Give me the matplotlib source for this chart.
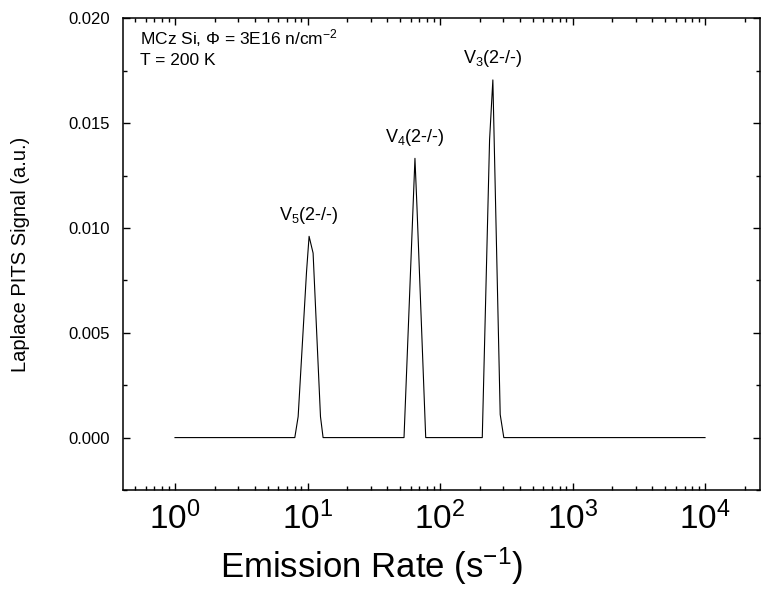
import matplotlib
matplotlib.use('Agg')
import matplotlib.pyplot as plt
from matplotlib.ticker import MultipleLocator, FormatStrFormatter, LogLocator

plt.rcParams['font.family'] = ['Liberation Sans', 'DejaVu Sans']
plt.rcParams['mathtext.fontset'] = 'custom'
plt.rcParams['mathtext.rm'] = 'Liberation Sans'
plt.rcParams['mathtext.it'] = 'Liberation Sans:italic'

# Laplace spectrum: emission rate (s^-1) and signal (a.u.)
rate = [1.0, 8.02, 8.50, 9.83, 10.28, 11.02, 12.53, 13.11,
        53.5, 64.7, 67.0, 78.0,
        208.4, 236.6, 250.5, 284.6, 303.0, 10000.0]
signal = [0.0, 0.0, 0.0010, 0.0079, 0.0096, 0.0088, 0.0010, 0.0,
          0.0, 0.01332, 0.0110, 0.0,
          0.0, 0.0142, 0.01706, 0.0011, 0.0, 0.0]

# peak labels
peak_labels = ['V$_5$(2-/-)', 'V$_4$(2-/-)', 'V$_3$(2-/-)']
peak_rates = [10.28, 64.7, 250.5]
peak_heights = [0.0096, 0.01332, 0.01706]

fig = plt.figure(figsize=(7.63, 5.90), dpi=100)
ax = fig.add_axes([0.1608, 0.1695, 0.835, 0.7995])

ax.plot(rate, signal, color='black', lw=0.8)
ax.set_xscale('log')
ax.set_xlim(0.403, 25900)
ax.set_ylim(-0.0025, 0.020)

for lab, r, h in zip(peak_labels, peak_rates, peak_heights):
    ax.text(r, h + 0.0005, lab, ha='center', va='bottom', fontsize=13)

ax.text(0.027, 0.958, 'MCz Si, Φ = 3E16 n/cm$^{-2}$', transform=ax.transAxes,
        ha='left', va='center', fontsize=12.5)
ax.text(0.027, 0.910, 'T = 200 K', transform=ax.transAxes,
        ha='left', va='center', fontsize=12.5)

ax.yaxis.set_major_locator(MultipleLocator(0.005))
ax.yaxis.set_minor_locator(MultipleLocator(0.0025))
ax.yaxis.set_major_formatter(FormatStrFormatter('%.3f'))
ax.xaxis.set_major_locator(LogLocator(base=10, numticks=10))
ax.xaxis.set_minor_locator(LogLocator(base=10, subs=range(2, 10), numticks=10))

ax.tick_params(which='both', direction='in', top=True, right=True, width=1)
ax.tick_params(which='major', length=5)
ax.tick_params(which='minor', length=3)
ax.tick_params(axis='y', labelsize=12, pad=9)
ax.tick_params(axis='x', labelsize=24, pad=8)
for s in ax.spines.values():
    s.set_linewidth(1.1)

ax.set_xlabel('Emission Rate (s$^{-1}$)', fontsize=25)
ax.xaxis.set_label_coords(0.39, -0.118)
ax.set_ylabel('Laplace PITS Signal (a.u.)', fontsize=14.5)
ax.yaxis.set_label_coords(-0.145, 0.5)

fig.savefig('out.png', dpi=100)
